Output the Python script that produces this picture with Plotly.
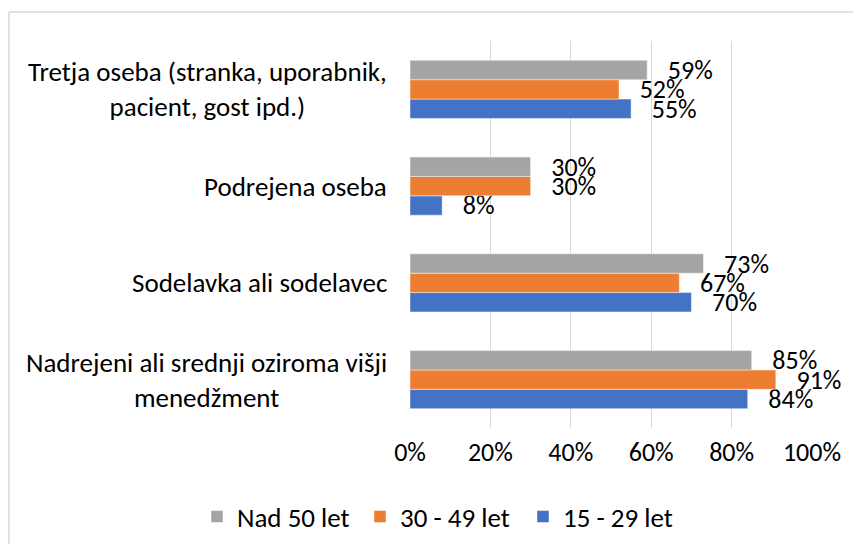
import plotly.graph_objects as go

categories = [
    "Nadrejeni ali srednji oziroma višji<br>menedžment",
    "Sodelavka ali sodelavec",
    "Podrejena oseba",
    "Tretja oseba (stranka, uporabnik,<br>pacient, gost ipd.)",
]
series_names = ["15 - 29 let", "30 - 49 let", "Nad 50 let"]
vals_15_29 = [0.84, 0.70, 0.08, 0.55]
vals_30_49 = [0.91, 0.67, 0.30, 0.52]
vals_50 = [0.85, 0.73, 0.30, 0.59]
colors = ["#4472C4", "#ED7D31", "#A5A5A5"]
x_ticks = [0, 0.2, 0.4, 0.6, 0.8, 1.0]

FONT = "Carlito, Lato, Calibri, sans-serif"
FS_LBL = 27
FS_NUM = 26

# page body has an 8px margin, so the figure is drawn 8px in from the top-left
W, H = 845, 536
ML, MR, MT, MB = 402, 41, 33, 116
PW, PH = W - ML - MR, H - MT - MB

fig = go.Figure()
for name, vals, col in zip(series_names, [vals_15_29, vals_30_49, vals_50], colors):
    fig.add_trace(go.Bar(
        y=categories, x=vals, name=name, orientation="h",
        marker=dict(color=col, line=dict(color="rgba(255,255,255,0.6)", width=0.75)),
        texttemplate="\u00a0\u00a0\u00a0%{x:.0%}",
        textposition="outside", constraintext="none", cliponaxis=False,
        textfont=dict(family=FONT, size=FS_NUM, color="#000000"),
    ))

for c in categories:
    fig.add_annotation(x=0, y=c, xref="x", yref="y", text=c, showarrow=False,
                       xanchor="right", yanchor="middle", align="center", xshift=-21,
                       font=dict(family=FONT, size=FS_LBL, color="#000000"))

ytop = 1 + (MT - 4) / PH
xleft = (1 - ML) / PW
fig.add_shape(type="line", xref="paper", yref="paper",
              x0=xleft, x1=(W + 20 - ML) / PW, y0=ytop, y1=ytop,
              line=dict(color="#D9D9D9", width=1.5))
fig.add_shape(type="line", xref="paper", yref="paper",
              x0=xleft, x1=xleft, y0=ytop, y1=-(MB + 20) / PH,
              line=dict(color="#D9D9D9", width=1.5))

fig.update_layout(
    width=W, height=H,
    margin=dict(l=ML, r=MR, t=MT, b=MB, autoexpand=False),
    paper_bgcolor="white", plot_bgcolor="white",
    barmode="group", bargap=0.4, bargroupgap=0,
    font=dict(family=FONT, size=FS_LBL, color="#000000"),
    showlegend=True,
    legend=dict(orientation="h", traceorder="reversed",
                x=(189 - ML) / PW, xanchor="left",
                y=-89 / PH, yanchor="middle",
                entrywidth=118, entrywidthmode="pixels",
                font=dict(family=FONT, size=FS_LBL, color="#000000")),
    xaxis=dict(range=[0, 1], tickvals=x_ticks, tickformat=".0%",
               showgrid=True, gridcolor="#D9D9D9", gridwidth=1, zeroline=False,
               ticks="outside", ticklen=1, tickcolor="rgba(0,0,0,0)",
               tickfont=dict(family=FONT, size=FS_NUM, color="#000000"), fixedrange=True),
    yaxis=dict(type="category", showticklabels=False, showgrid=False, zeroline=False,
               fixedrange=True),
)

fig.write_html("out.html")
